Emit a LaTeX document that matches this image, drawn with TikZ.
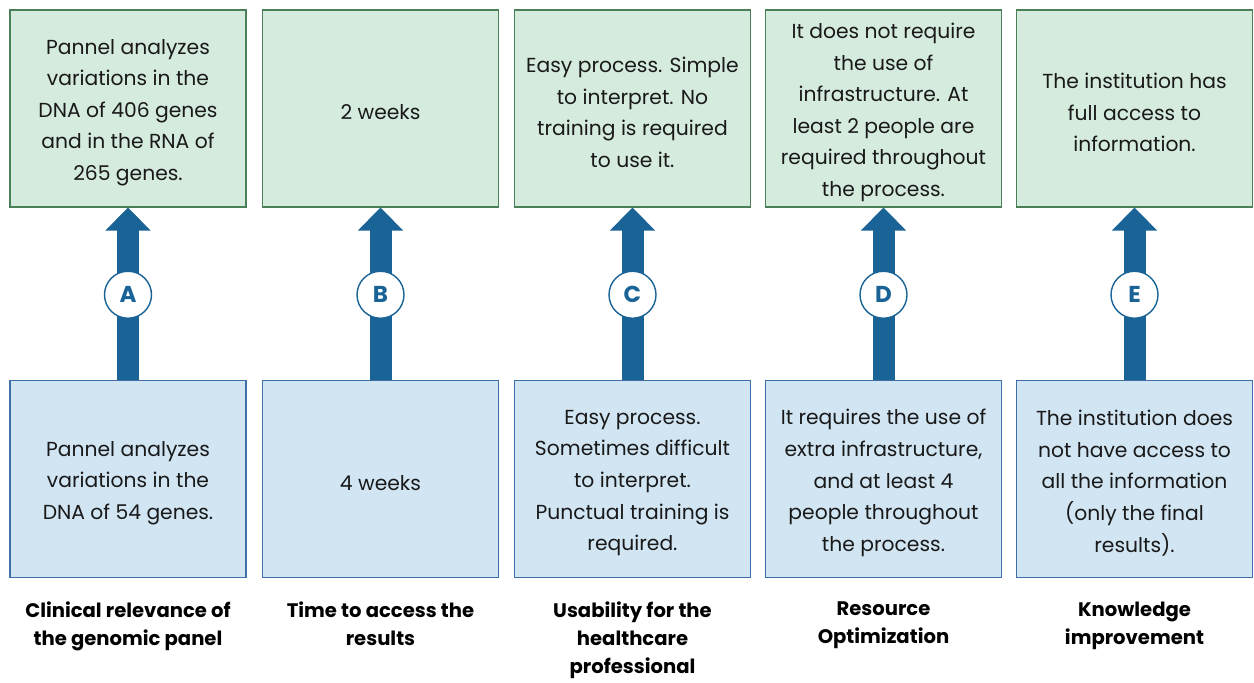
\documentclass[tikz,border=0pt]{standalone}
\usepackage{fontspec}
\setmainfont{Poppins}
\usetikzlibrary{arrows.meta,calc}
\definecolor{topfill}{HTML}{D5EBDE}
\definecolor{topline}{HTML}{4A7F57}
\definecolor{botfill}{HTML}{D1E5F3}
\definecolor{botline}{HTML}{3F6FA8}
\definecolor{arrowblue}{HTML}{1A6396}
\begin{document}
\begin{tikzpicture}[x=1pt,y=-1pt,
  box/.style={rectangle, minimum width=236pt, minimum height=197pt, inner sep=0pt, line width=1.1pt},
  topbox/.style={box, fill=topfill, draw=topline},
  botbox/.style={box, fill=botfill, draw=botline},
  boxtext/.style={align=center, inner sep=0pt, font=\fontsize{20.3}{31.6}\selectfont, text=black!90},
  riser/.style={draw=arrowblue, line width=22pt, -{Triangle[width=44pt,length=23pt]}},
  badge/.style={circle, minimum size=47pt, inner sep=0pt, fill=white, draw=arrowblue,
    line width=1.4pt, text=arrowblue, font=\fontsize{23}{23}\selectfont\bfseries},
  caption/.style={anchor=north, align=center, inner sep=0pt, font=\fontsize{19.6}{28}\selectfont\bfseries, text=black}]
\useasboundingbox (0,0) rectangle (1254,683);

% upper row
\node[topbox] (t1) at (128,108.5) {};
\node[topbox] (t2) at (380.5,108.5) {};
\node[topbox] (t3) at (632.5,108.5) {};
\node[topbox] (t4) at (883.5,108.5) {};
\node[topbox] (t5) at (1134.5,108.5) {};
\node[boxtext] (tt1) at ($(t1.center)+(0,4)$) {Pannel analyzes\\variations in the\\DNA of 406 genes\\and in the RNA of\\265 genes.};
\node[boxtext] (tt2) at ($(t2.center)+(0,4)$) {2 weeks};
\node[boxtext] (tt3) at ($(t3.center)+(0,4)$) {Easy process. Simple\\to interpret. No\\training is required\\to use it.};
\node[boxtext] (tt4) at ($(t4.center)+(0,4)$) {It does not require\\the use of\\infrastructure. At\\least 2 people are\\required throughout\\the process.};
\node[boxtext] (tt5) at ($(t5.center)+(0,4)$) {The institution has\\full access to\\information.};

% lower row
\node[botbox] (b1) at (128,479) {};
\node[botbox] (b2) at (380.5,479) {};
\node[botbox] (b3) at (632.5,479) {};
\node[botbox] (b4) at (883.5,479) {};
\node[botbox] (b5) at (1134.5,479) {};
\node[boxtext] (bt1) at ($(b1.center)+(0,4)$) {Pannel analyzes\\variations in the\\DNA of 54 genes.};
\node[boxtext] (bt2) at ($(b2.center)+(0,4)$) {4 weeks};
\node[boxtext] (bt3) at ($(b3.center)+(0,4)$) {Easy process.\\Sometimes difficult\\to interpret.\\Punctual training is\\required.};
\node[boxtext] (bt4) at ($(b4.center)+(0,4)$) {It requires the use of\\extra infrastructure,\\and at least 4\\people throughout\\the process.};
\node[boxtext] (bt5) at ($(b5.center)+(0,4)$) {The institution does\\not have access to\\all the information\\(only the final\\results).};

% arrows with lettered badges
\foreach \i/\l in {1/A,2/B,3/C,4/D,5/E}{
  \draw[riser] (b\i.north) -- (t\i.south);
  \node[badge] (c\i) at ($(b\i.north)!0.5!(t\i.south)+(0,1)$) {\l};
}

% captions
\node[caption] (l1) at (128,602) {Clinical relevance of\\the genomic panel};
\node[caption] (l2) at (380.5,602) {Time to access the\\results};
\node[caption] (l3) at (632.5,602) {Usability for the\\healthcare\\professional};
\node[caption] (l4) at (883.5,602) {Resource\\Optimization};
\node[caption] (l5) at (1134.5,602) {Knowledge\\improvement};
\end{tikzpicture}
\end{document}
